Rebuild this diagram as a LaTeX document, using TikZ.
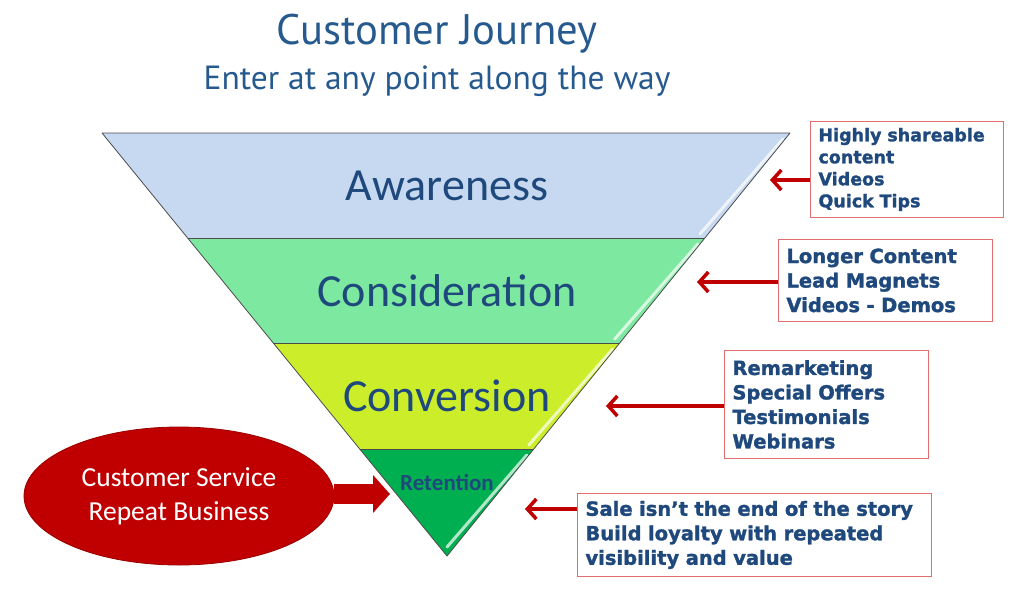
\documentclass[tikz,border=0pt]{standalone}
\usepackage{fontspec}
\setmainfont{Carlito}
\newfontfamily\titlefont{PT Sans}
\newfontfamily\notefont{DejaVu Sans}[BoldFeatures={FakeBold=1.5}]
\usetikzlibrary{arrows.meta,positioning,calc,shapes.geometric}
\definecolor{navy}{HTML}{1F497D}
\definecolor{titleblue}{HTML}{265A8F}
\definecolor{awarebg}{HTML}{C6D9F0}
\definecolor{considerbg}{HTML}{7DE9A0}
\definecolor{convertbg}{HTML}{CCEE2A}
\definecolor{retainbg}{HTML}{00B050}
\definecolor{arrowred}{HTML}{C00000}
\definecolor{notered}{HTML}{E36C6C}
\definecolor{ovalred}{HTML}{C00000}
\tikzset{
  >={Straight Barb[length=9pt,width=20pt]},
  band/.style={draw=black!70,line width=0.8pt,line join=round},
  shine/.style={draw=white,line width=3pt,opacity=0.7,line cap=round},
  stage/.style={font=\fontsize{46}{46}\selectfont,text=navy},
  note/.style={draw=notered,line width=0.9pt,fill=white,anchor=north west,align=left,
    inner xsep=8pt,inner ysep=0pt,text=navy,font=\notefont\bfseries\fontsize{19.5}{24.5}\selectfont},
  pointer/.style={->,line width=3.5pt,draw=arrowred},
  oval/.style={ellipse,fill=ovalred,draw=ovalred!80!black,line width=0.8pt,text=white,align=center,
    font=\fontsize{27.5}{34}\selectfont,minimum width=310pt,minimum height=138pt,inner sep=0pt},
  blockarrow/.style={-{Triangle[length=17pt,width=37pt]},line width=20pt,draw=ovalred}
}
\begin{document}
\begin{tikzpicture}[x=1pt,y=-1pt]
  \useasboundingbox (0,0) rectangle (1024,592);

  \node[font=\titlefont\fontsize{42.7}{42.7}\selectfont,text=titleblue] (title) at (437,34) {Customer Journey};
  \node[font=\titlefont\fontsize{33.5}{33.5}\selectfont,text=titleblue] (subtitle) at (437,81) {Enter at any point along the way};

  % funnel corners
  \coordinate (tl) at (102,133);  \coordinate (tr) at (790,133);
  \coordinate (l1) at (187.6,238); \coordinate (r1) at (704.9,238);
  \coordinate (l2) at (273.3,343); \coordinate (r2) at (619.7,343);
  \coordinate (l3) at (359.7,449); \coordinate (r3) at (533.8,449);
  \coordinate (apex) at (447,556);

  \fill[awarebg] (tl) -- (tr) -- (r1) -- (l1) -- cycle;
  \fill[considerbg] (l1) -- (r1) -- (r2) -- (l2) -- cycle;
  \fill[convertbg] (l2) -- (r2) -- (r3) -- (l3) -- cycle;
  \fill[retainbg] (l3) -- (r3) -- (apex) -- cycle;
  \draw[shine] ($(tr)+(-7,6)$) -- ($(r1)+(-5,-4)$);
  \draw[shine] ($(r1)+(-7,6)$) -- ($(r2)+(-5,-4)$);
  \draw[shine] ($(r2)+(-7,6)$) -- ($(r3)+(-5,-4)$);
  \draw[shine] ($(r3)+(-7,6)$) -- ($(apex)+(0,-9)$);
  \draw[band] (l1) -- (r1) (l2) -- (r2) (l3) -- (r3);
  \draw[band] (tl) -- (tr) -- (apex) -- cycle;

  \node[stage] (aware) at (447,186) {Awareness};
  \node[stage] (consider) at (447,291) {Consideration};
  \node[stage] (convert) at (447,396) {Conversion};
  \node[font=\bfseries\fontsize{23}{23}\selectfont,text=navy] (retain) at (447,482) {Retention};

  % notes on the right
  \node[note,font=\notefont\bfseries\fontsize{17.5}{22}\selectfont,minimum width=193pt,minimum height=96pt,text width=177pt] (tips) at (810,121)
    {Highly shareable\\content\\Videos\\Quick Tips};
  \node[note,minimum width=214pt,minimum height=82pt,text width=198pt] (demos) at (778,239)
    {Longer Content\\Lead Magnets\\Videos - Demos};
  \node[note,minimum width=204pt,minimum height=108pt,text width=188pt] (offers) at (724,350)
    {Remarketing\\Special Offers\\Testimonials\\Webinars};
  \node[note,minimum width=354pt,minimum height=83pt,text width=338pt] (story) at (577,493)
    {Sale isn’t the end of the story\\Build loyalty with repeated\\visibility and value};

  \coordinate (tipsend) at (770,180);
  \coordinate (demosend) at (697,282);
  \coordinate (offersend) at (606,406);
  \coordinate (storyend) at (525,509);
  \draw[pointer] (tips.west |- tipsend) -- (tipsend);
  \draw[pointer] (demos.west |- demosend) -- (demosend);
  \draw[pointer] (offers.west |- offersend) -- (offersend);
  \draw[pointer] (story.west |- storyend) -- (storyend);

  % oval on the left
  \node[oval] (service) at (179,496) {Customer Service\\Repeat Business};
  \coordinate (serviceend) at (390,494);
  \draw[blockarrow] (service.east |- serviceend) -- (serviceend);
\end{tikzpicture}
\end{document}
